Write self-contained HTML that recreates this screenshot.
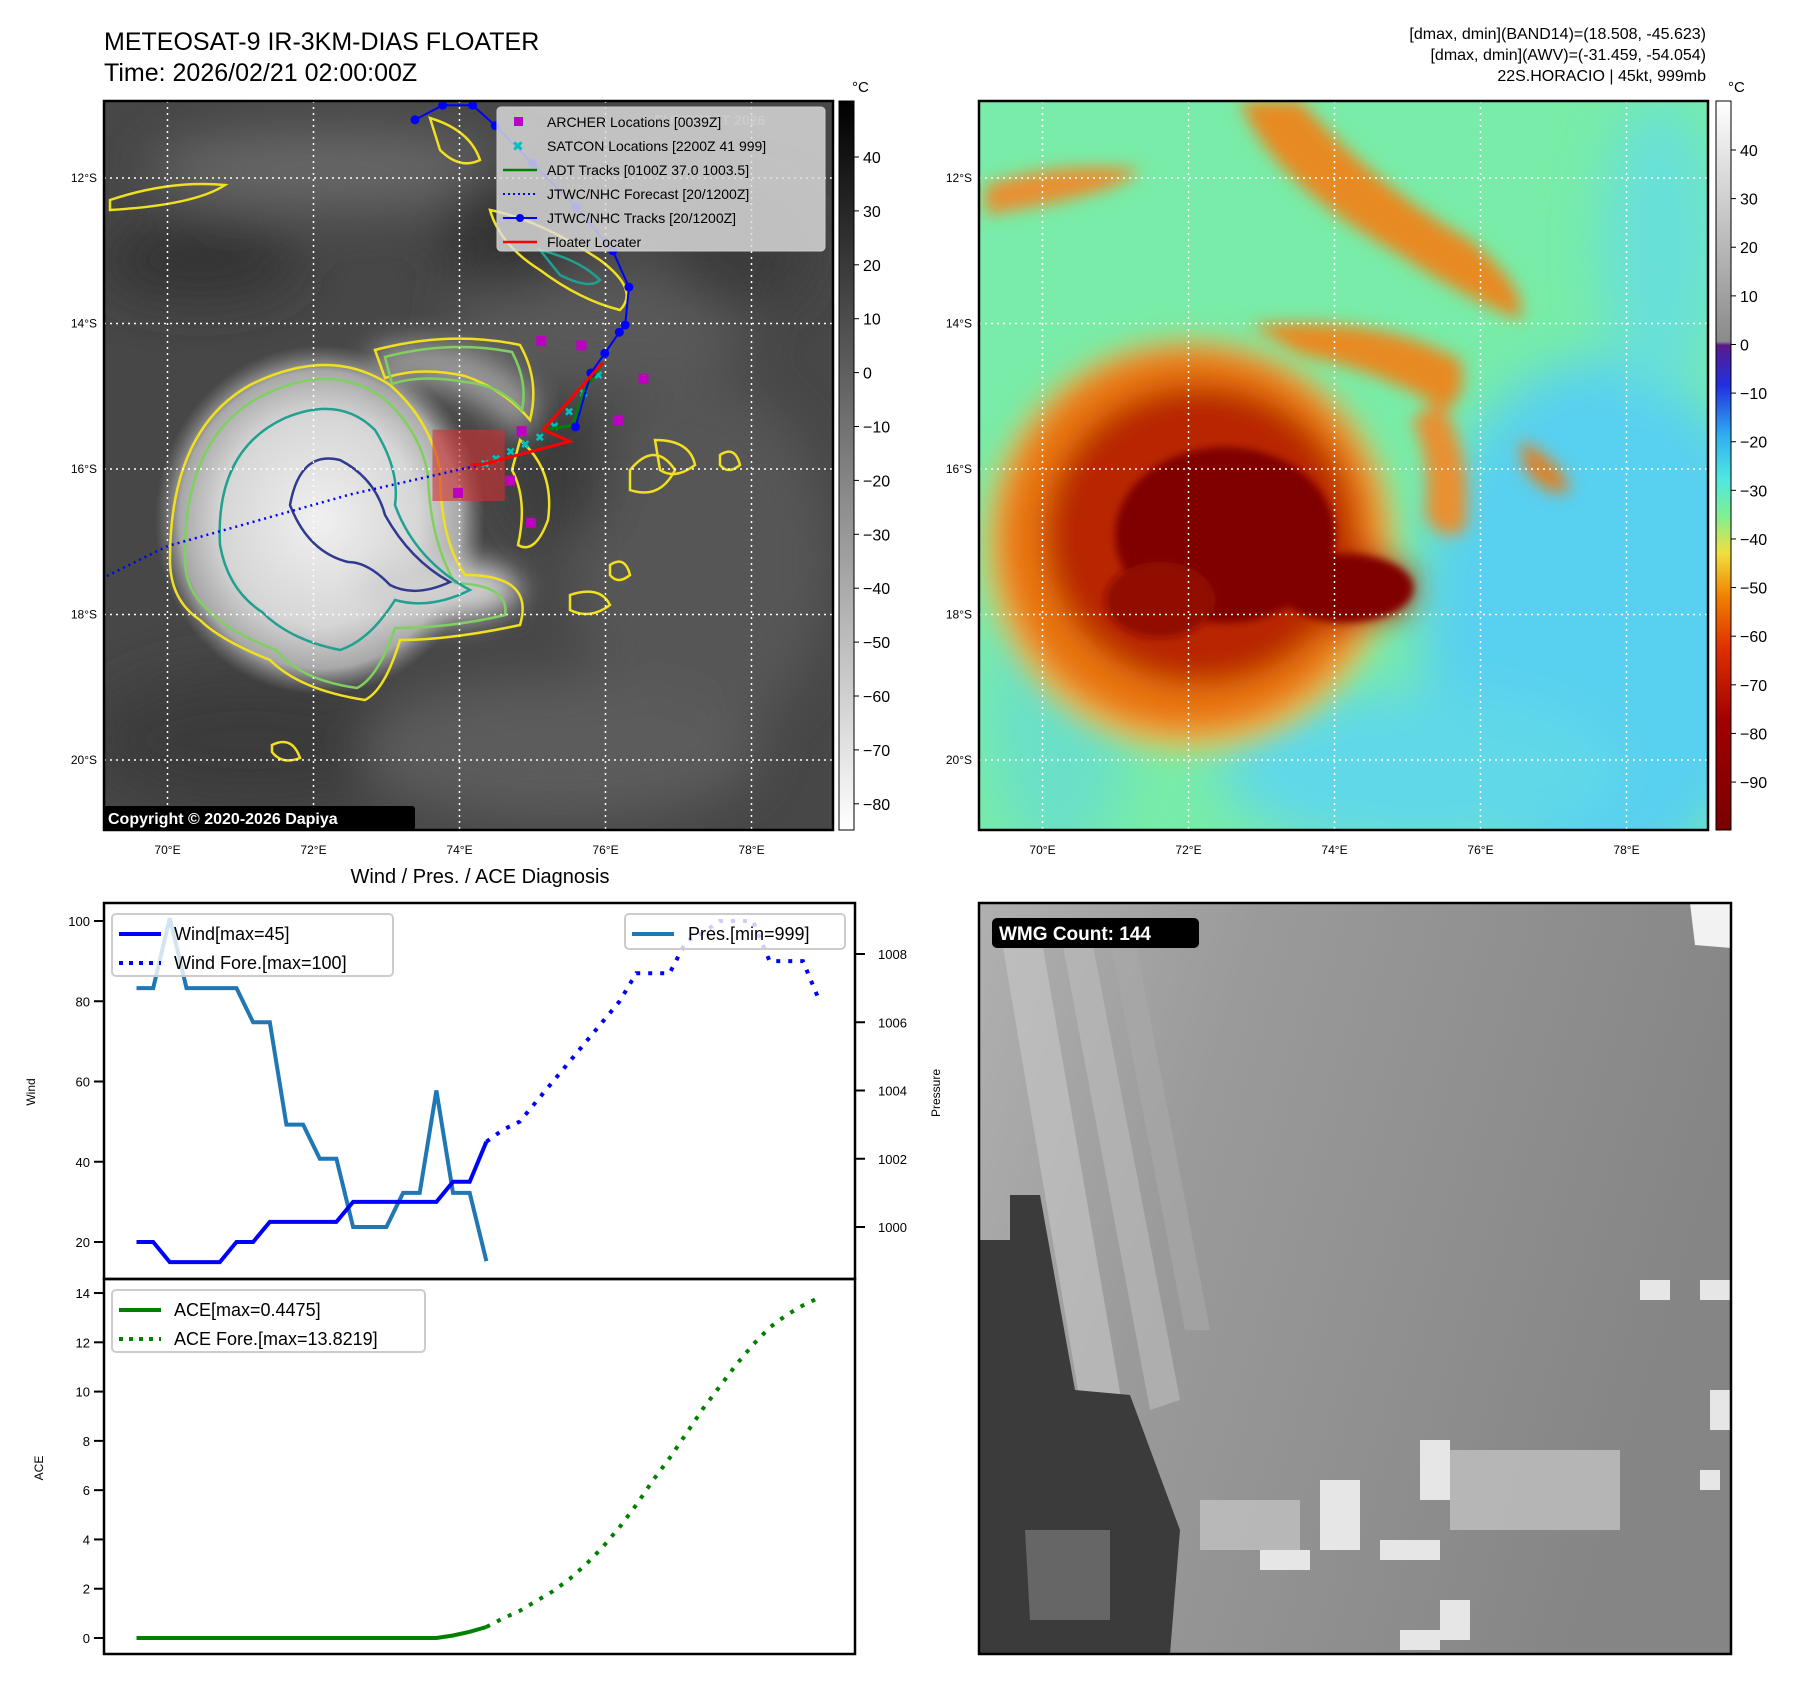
<!DOCTYPE html>
<html><head><meta charset="utf-8"><style>
body{margin:0;background:#fff;}
svg{display:block;font-family:"Liberation Sans","DejaVu Sans",sans-serif;}
</style></head><body>
<svg id="fig" width="1797" height="1690" viewBox="0 0 1797 1690" xmlns="http://www.w3.org/2000/svg">
<defs>
<filter id="b4"><feGaussianBlur stdDeviation="4"/></filter>
<filter id="b8"><feGaussianBlur stdDeviation="8"/></filter>
<filter id="b14"><feGaussianBlur stdDeviation="14"/></filter>
<filter id="b25"><feGaussianBlur stdDeviation="25"/></filter>
<clipPath id="c1"><rect x="104" y="101" width="729" height="729"/></clipPath>
<clipPath id="c2"><rect x="979" y="101" width="729" height="729"/></clipPath>
<clipPath id="c3"><rect x="979" y="903" width="752" height="751"/></clipPath>
<linearGradient id="cb1" x1="0" y1="0" x2="0" y2="1"><stop offset="0" stop-color="#000"/><stop offset="1" stop-color="#fff"/></linearGradient>
<linearGradient id="cb2" x1="0" y1="0" x2="0" y2="1">
<stop offset="0" stop-color="#ffffff"/><stop offset="0.33" stop-color="#8a8a8a"/>
<stop offset="0.335" stop-color="#5a1a8a"/><stop offset="0.39" stop-color="#2030e0"/>
<stop offset="0.46" stop-color="#30b0f0"/><stop offset="0.52" stop-color="#50e8e0"/>
<stop offset="0.57" stop-color="#80f090"/><stop offset="0.62" stop-color="#f0e040"/>
<stop offset="0.68" stop-color="#f08000"/><stop offset="0.75" stop-color="#e03000"/>
<stop offset="0.85" stop-color="#a00000"/><stop offset="1" stop-color="#7a0000"/>
</linearGradient>
<radialGradient id="storm1"><stop offset="0" stop-color="#f0f0f0"/><stop offset="0.6" stop-color="#d6d6d6"/><stop offset="0.85" stop-color="#a8a8a8"/><stop offset="1" stop-color="#888" stop-opacity="0"/></radialGradient>
<linearGradient id="wmgbg" x1="0" y1="0" x2="1" y2="0.3"><stop offset="0" stop-color="#b0b0b0"/><stop offset="0.35" stop-color="#9a9a9a"/><stop offset="1" stop-color="#858585"/></linearGradient>
</defs>

<text x="104" y="50" font-size="25">METEOSAT-9 IR-3KM-DIAS FLOATER</text>
<text x="104" y="81" font-size="25">Time: 2026/02/21 02:00:00Z</text>
<g font-size="16" text-anchor="end">
<text x="1706" y="39">[dmax, dmin](BAND14)=(18.508, -45.623)</text>
<text x="1706" y="60">[dmax, dmin](AWV)=(-31.459, -54.054)</text>
<text x="1706" y="81">22S.HORACIO | 45kt, 999mb</text>
</g>

<!-- LEFT MAP -->
<g clip-path="url(#c1)">
<rect x="104" y="101" width="729" height="729" fill="#474747"/>
<g filter="url(#b25)" opacity="0.9">
<ellipse cx="330" cy="170" rx="180" ry="40" fill="#6a6a6a"/>
<ellipse cx="600" cy="330" rx="150" ry="60" fill="#5c5c5c"/>
<ellipse cx="700" cy="560" rx="130" ry="180" fill="#595959"/>
<ellipse cx="250" cy="740" rx="160" ry="70" fill="#3a3a3a"/>
<ellipse cx="560" cy="750" rx="200" ry="70" fill="#5e5e5e"/>
<ellipse cx="200" cy="260" rx="100" ry="40" fill="#333"/>
<ellipse cx="510" cy="230" rx="70" ry="60" fill="#333"/>
<ellipse cx="560" cy="470" rx="50" ry="70" fill="#3a3a3a"/>
<ellipse cx="740" cy="250" rx="70" ry="60" fill="#3a3a3a"/>
</g>
<ellipse cx="320" cy="520" rx="165" ry="175" fill="url(#storm1)"/>
<g filter="url(#b14)">
<path d="M370 350 Q470 320 540 400 L525 440 Q450 370 380 385Z" fill="#9a9a9a"/>
<ellipse cx="440" cy="590" rx="80" ry="30" fill="#d0d0d0"/>
</g>
<g fill="none" stroke-width="2.5">
<path d="M170 560 Q170 430 250 385 Q330 345 390 385 Q430 420 440 470 Q440 540 465 575 Q535 575 520 625 Q450 640 400 640 Q385 690 365 700 Q300 690 270 660 Q220 640 200 620 Q170 600 170 560Z" stroke="#f0e020"/>
<path d="M185 560 Q183 440 258 398 Q330 360 383 398 Q420 430 428 475 Q430 540 455 583 Q510 585 505 615 Q450 628 395 628 Q378 678 357 688 Q300 680 276 650 Q225 630 208 610 Q185 590 185 560Z" stroke="#80d060"/>
<path d="M220 545 Q215 450 285 418 Q340 395 375 430 Q400 470 395 505 Q415 560 470 590 Q430 610 395 600 Q370 640 340 650 Q290 640 262 612 Q228 590 220 545Z" stroke="#20a090"/>
<path d="M290 505 Q300 450 340 460 Q375 478 385 515 Q410 560 450 582 Q415 598 390 585 Q368 562 348 562 Q308 552 290 505Z" stroke="#303a90"/>
<path d="M375 350 Q450 330 520 345 Q540 380 530 420 Q505 390 465 376 Q420 366 385 378Z" stroke="#f0e020"/>
<path d="M385 357 Q450 340 512 352 Q528 382 522 410 Q500 385 465 382 Q420 374 392 384Z" stroke="#80d060"/>
<path d="M520 440 Q555 470 548 520 Q535 555 518 545 Q528 500 512 470Z" stroke="#f0e020"/>
<path d="M430 118 Q470 130 480 160 Q460 170 440 150Z" stroke="#f0e020"/>
<path d="M490 210 Q540 220 600 260 Q640 290 620 310 Q580 300 540 270 Q500 245 490 210Z" stroke="#f0e020"/>
<path d="M540 250 Q580 260 600 280 Q590 290 560 275Z" stroke="#20a090"/>
<path d="M630 470 Q655 440 675 470 Q660 500 630 490Z" stroke="#f0e020"/>
<path d="M655 440 Q690 440 695 465 Q675 480 660 470Z" stroke="#f0e020"/>
<path d="M110 200 Q170 180 225 185 Q195 205 110 210Z" stroke="#f0e020"/>
<path d="M570 595 Q600 585 610 605 Q590 620 570 610Z" stroke="#f0e020"/>
<path d="M272 745 Q292 735 300 758 Q282 765 272 752Z" stroke="#f0e020"/>
<path d="M720 455 Q735 445 740 465 Q728 475 720 465Z" stroke="#f0e020"/>
<path d="M610 565 Q625 555 630 575 Q618 585 610 575Z" stroke="#f0e020"/>
</g>
<g stroke="#fff" stroke-width="1.5" stroke-dasharray="2,4" id="grid1"></g>
<rect id="floaterbox" fill="#d03030" fill-opacity="0.6"/>
<g id="ovl1"></g>
</g>
<rect x="104" y="101" width="729" height="729" fill="none" stroke="#000" stroke-width="2.5"/>
<g>
<rect x="497" y="107" width="328" height="144" rx="4" fill="#ddd" fill-opacity="0.82" stroke="#ccc"/>
<text x="640" y="125" font-size="14" fill="#ccc" font-weight="bold">© EUMETSAT 2026</text>
<g font-size="14">
<rect x="514" y="117" width="9" height="9" fill="#c000c0"/><text x="547" y="127">ARCHER Locations [0039Z]</text>
<text x="512" y="151" fill="#00c0c0" font-weight="bold" font-size="14">✖</text><text x="547" y="151">SATCON Locations [2200Z 41 999]</text>
<line x1="503" y1="170" x2="537" y2="170" stroke="#008000" stroke-width="2.5"/><text x="547" y="175">ADT Tracks [0100Z 37.0 1003.5]</text>
<line x1="503" y1="194" x2="537" y2="194" stroke="#0000ff" stroke-width="2" stroke-dasharray="2,3"/><text x="547" y="199">JTWC/NHC Forecast [20/1200Z]</text>
<line x1="503" y1="218" x2="537" y2="218" stroke="#0000ff" stroke-width="2"/><circle cx="520" cy="218" r="4" fill="#00f"/><text x="547" y="223">JTWC/NHC Tracks [20/1200Z]</text>
<line x1="503" y1="242" x2="537" y2="242" stroke="#ff0000" stroke-width="2.5"/><text x="547" y="247">Floater Locater</text>
</g></g>
<g><rect x="103" y="806" width="312" height="24" rx="3" fill="#000"/><text x="108" y="824" font-size="16" font-weight="bold" fill="#fff">Copyright © 2020-2026 Dapiya</text></g>
<rect x="839" y="101" width="15" height="729" fill="url(#cb1)" stroke="#000" stroke-width="1"/>
<text x="852" y="92" font-size="15">°C</text>
<g id="cb1ticks" font-size="16"></g>

<!-- RIGHT MAP -->
<g clip-path="url(#c2)">
<rect x="979" y="101" width="729" height="729" fill="#78eca8"/>
<g filter="url(#b25)">
<ellipse cx="1600" cy="620" rx="180" ry="260" fill="#58d0f0"/>
<ellipse cx="1420" cy="770" rx="200" ry="80" fill="#60d8e8"/>
<ellipse cx="1060" cy="720" rx="70" ry="140" fill="#6ae0c8"/>
<ellipse cx="1660" cy="250" rx="60" ry="150" fill="#68e0d8"/>
</g>
<g filter="url(#b8)">
<path d="M1240 101 L1300 101 Q1380 190 1470 240 Q1530 290 1520 320 Q1460 295 1400 255 Q1330 215 1290 175 Q1255 140 1240 101Z" fill="#e88a20"/>
<path d="M985 185 Q1060 160 1140 170 Q1120 195 985 215Z" fill="#e89030"/>
<path d="M1250 325 Q1380 315 1460 360 Q1470 395 1445 410 Q1380 370 1300 355Z" fill="#e88a20"/>
<path d="M1440 400 Q1475 460 1465 530 Q1440 545 1425 515 Q1432 460 1412 420Z" fill="#e89030"/>
<path d="M1520 440 Q1560 460 1570 490 Q1550 500 1525 470Z" fill="#e08020"/>
</g>
<g filter="url(#b14)">
<ellipse cx="1190" cy="545" rx="205" ry="205" fill="#f0c050"/>
<ellipse cx="1190" cy="540" rx="192" ry="192" fill="#e87410"/>
<ellipse cx="1200" cy="535" rx="155" ry="150" fill="#b82800"/>
<ellipse cx="1340" cy="588" rx="75" ry="42" fill="#b82800"/>
</g>
<g filter="url(#b4)">
<ellipse cx="1225" cy="535" rx="110" ry="88" fill="#800000"/>
<ellipse cx="1345" cy="588" rx="68" ry="34" fill="#800000"/>
<ellipse cx="1160" cy="600" rx="55" ry="38" fill="#901000"/>
</g>
<g stroke="#fff" stroke-width="1.5" stroke-dasharray="2,4" id="grid2"></g>
</g>
<rect x="979" y="101" width="729" height="729" fill="none" stroke="#000" stroke-width="2.5"/>
<rect x="1716" y="101" width="15" height="729" fill="url(#cb2)" stroke="#000" stroke-width="1"/>
<text x="1728" y="92" font-size="15">°C</text>
<g id="cb2ticks" font-size="16"></g>
<g id="maplabels" font-size="12"></g>

<text x="480" y="883" font-size="20" text-anchor="middle">Wind / Pres. / ACE Diagnosis</text>
<rect x="104" y="903" width="751" height="376" fill="#fff"/>
<g id="chart"></g>
<rect x="104" y="903" width="751" height="376" fill="none" stroke="#000" stroke-width="2.5"/>
<rect x="104" y="1279" width="751" height="375" fill="none" stroke="#000" stroke-width="2.5"/>
<text transform="translate(35,1092) rotate(-90)" font-size="12" text-anchor="middle">Wind</text>
<text transform="translate(940,1093) rotate(-90)" font-size="12" text-anchor="middle">Pressure</text>
<text transform="translate(43,1468) rotate(-90)" font-size="12" text-anchor="middle">ACE</text>
<g font-size="18">
<g><rect x="112" y="914" width="281" height="62" rx="4" fill="#fff" fill-opacity="0.8" stroke="#ccc" stroke-width="2"/>
<line x1="119" y1="934" x2="161" y2="934" stroke="#0000ff" stroke-width="4"/><text x="174" y="940">Wind[max=45]</text>
<line x1="119" y1="963" x2="161" y2="963" stroke="#0000ff" stroke-width="4" stroke-dasharray="4,6"/><text x="174" y="969">Wind Fore.[max=100]</text></g>
<g><rect x="625" y="914" width="220" height="35" rx="4" fill="#fff" fill-opacity="0.8" stroke="#ccc" stroke-width="2"/>
<line x1="632" y1="934" x2="674" y2="934" stroke="#1f77b4" stroke-width="4"/><text x="688" y="940">Pres.[min=999]</text></g>
<g><rect x="112" y="1290" width="313" height="62" rx="4" fill="#fff" fill-opacity="0.8" stroke="#ccc" stroke-width="2"/>
<line x1="119" y1="1310" x2="161" y2="1310" stroke="#008000" stroke-width="4"/><text x="174" y="1316">ACE[max=0.4475]</text>
<line x1="119" y1="1339" x2="161" y2="1339" stroke="#008000" stroke-width="4" stroke-dasharray="4,6"/><text x="174" y="1345">ACE Fore.[max=13.8219]</text></g>
</g>

<!-- WMG -->
<g clip-path="url(#c3)">
<rect x="979" y="903" width="752" height="751" fill="url(#wmgbg)"/>
<path d="M1690 903 L1731 903 L1731 948 L1695 945Z" fill="#f2f2f2"/>
<g opacity="0.6">
<path d="M1000 930 L1040 930 L1130 1450 L1090 1460Z" fill="#c8c8c8"/>
<path d="M1060 930 L1090 930 L1180 1400 L1150 1410Z" fill="#bdbdbd"/>
<path d="M1110 940 L1135 940 L1210 1330 L1185 1330Z" fill="#aaa"/>
</g>
<path d="M979 1240 L1010 1240 L1010 1195 L1040 1195 L1075 1390 L1130 1395 L1180 1530 L1170 1654 L979 1654Z" fill="#3b3b3b"/>
<path d="M1025 1530 L1110 1530 L1110 1620 L1030 1620Z" fill="#666"/>
<g fill="#c0c0c0" opacity="0.8">
<rect x="1450" y="1450" width="170" height="80"/><rect x="1200" y="1500" width="100" height="50"/>
</g>
<g fill="#e6e6e6">
<rect x="1320" y="1480" width="40" height="70"/><rect x="1420" y="1440" width="30" height="60"/>
<rect x="1380" y="1540" width="60" height="20"/><rect x="1440" y="1600" width="30" height="40"/>
<rect x="1260" y="1550" width="50" height="20"/><rect x="1640" y="1280" width="30" height="20"/>
<rect x="1700" y="1280" width="30" height="20"/><rect x="1710" y="1390" width="25" height="40"/>
<rect x="1700" y="1470" width="20" height="20"/><rect x="1400" y="1630" width="40" height="20"/>
</g>
</g>
<rect x="979" y="903" width="752" height="751" fill="none" stroke="#000" stroke-width="2.5"/>
<g><rect x="992" y="918" width="207" height="30" rx="5" fill="#000"/><text x="999" y="940" font-size="19" font-weight="bold" fill="#fff">WMG Count: 144</text></g>
</svg>
<script>
const obsIdx = [0,1,2,3,4,5,6,7,8,9,10,11,12,13,14,15,16,17,18,19,20,21];
const windObs = [20,20,15,15,15,15,20,20,25,25,25,25,25,30,30,30,30,30,30,35,35,45];
const foreIdx = [21,22,23,24,25,26,27,28,29,30,31,32,33,34,35,36,37,38,39,40,41];
const windFore = [45,48,50,55,60,65,70,75,80,87,87,87,95,97,100,100,100,90,90,90,80];
const presObs = [1007,1007,1009.05,1007,1007,1007,1007,1006,1006,1003,1003,1002,1002,1000,1000,1000,1001,1001,1004,1001,1001,999];
const aceObs = [0,0,0,0,0,0,0,0,0,0,0,0,0,0,0,0,0,0,0,0.1,0.25,0.4475];
const aceFore = [0.4475,0.8,1.1,1.5,1.9,2.4,3.0,3.7,4.5,5.4,6.4,7.3,8.3,9.3,10.2,11.1,11.9,12.6,13.1,13.5,13.8219];
const windTicks = [20,40,60,80,100];
const presTicks = [1000,1002,1004,1006,1008];
const aceTicks = [0,2,4,6,8,10,12,14];
const lonTicks = [70,72,74,76,78];
const latTicks = [12,14,16,18,20];
const cb1Ticks = [40,30,20,10,0,-10,-20,-30,-40,-50,-60,-70,-80];
const cb2Ticks = [40,30,20,10,0,-10,-20,-30,-40,-50,-60,-70,-80,-90];
const trackLon = [73.39,73.77,74.18,74.49,75.0,75.6,76.1,76.32,76.27,76.19,75.99,75.8,75.59];
const trackLat = [-11.2,-11.0,-11.0,-11.28,-11.8,-12.4,-13.0,-13.5,-14.02,-14.12,-14.41,-14.68,-15.42];
const foreLon = [74.3,72.5,70.0,69.13];
const foreLat = [-15.94,-16.35,-17.06,-17.49];
const floaterLon = [75.96,75.15,75.51,74.3,74.15];
const floaterLat = [-14.54,-15.46,-15.62,-15.94,-15.94];
const adtLon = [75.96,75.72,75.55,75.15];
const adtLat = [-14.54,-14.9,-15.4,-15.46];
const satLon = [75.9,75.7,75.5,75.3,75.1,74.9,74.7,74.5,74.35];
const satLat = [-14.7,-14.95,-15.2,-15.4,-15.55,-15.65,-15.75,-15.85,-15.92];
const archLon = [75.12,75.67,76.52,76.17,74.85,74.69,73.98,74.98];
const archLat = [-14.24,-14.30,-14.76,-15.33,-15.48,-16.16,-16.33,-16.74];
const boxLon = [73.63,74.62];
const boxLat = [-15.46,-16.44];

const NS='http://www.w3.org/2000/svg';
function mk(tag,attrs,parent){const e=document.createElementNS(NS,tag);for(const k in attrs)e.setAttribute(k,attrs[k]);parent.appendChild(e);return e;}
const xs = i => 136.5 + i*16.66;
const yW = v => 921 + (100-v)*4.0125;
const yP = p => 954 + (1008-p)*34.125;
const yA = a => 1638 - a*24.64;
const ch = document.getElementById('chart');
function poly(ix, vals, yf, color, dash, name){
  const pts = ix.map((i,k)=>xs(i).toFixed(1)+','+yf(vals[k]).toFixed(1)).join(' ');
  const el = mk('polyline',{points:pts,fill:'none',stroke:color,'stroke-width':4,'stroke-dasharray':dash||'none','stroke-linejoin':'miter'},ch);
  
  
}
poly(obsIdx,presObs,yP,'#1f77b4',null,'pressure-line');
poly(obsIdx,windObs,yW,'#0000ff',null,'wind-line');
poly(foreIdx,windFore,yW,'#0000ff','4,8','wind-forecast-line');
poly(obsIdx,aceObs,yA,'#008000',null,'ace-line');
poly(foreIdx,aceFore,yA,'#008000','4,8','ace-forecast-line');
function ticks(list, yf, side, fmt){
  list.forEach(v=>{
    const y=yf(v);
    if(side==='L'){mk('line',{x1:94,y1:y,x2:104,y2:y,stroke:'#000','stroke-width':2},ch);
      const t=mk('text',{x:90,y:y+5,'font-size':13,'text-anchor':'end'},ch);t.textContent=fmt(v);
      
      }
    else {mk('line',{x1:855,y1:y,x2:865,y2:y,stroke:'#000','stroke-width':2},ch);
      const t=mk('text',{x:878,y:y+5,'font-size':13},ch);t.textContent=fmt(v);
      
      }
  });
}
ticks(windTicks,yW,'L',v=>v);
ticks(presTicks,yP,'R',v=>v);
ticks(aceTicks,yA,'L',v=>v);

const mx = (lon,x0) => x0 + 63.5 + (lon-70)*73;
const my = lat => 178 + (-lat-12)*72.75;
function grid(id,x0){
  const g=document.getElementById(id);
  lonTicks.forEach(l=>mk('line',{x1:mx(l,x0),y1:101,x2:mx(l,x0),y2:830},g));
  latTicks.forEach(l=>mk('line',{x1:x0,y1:my(-l),x2:x0+729,y2:my(-l)},g));
}
grid('grid1',104);grid('grid2',979);
const ml=document.getElementById('maplabels');
[104,979].forEach(x0=>{
  lonTicks.forEach(l=>{const t=mk('text',{x:mx(l,x0),y:854,'text-anchor':'middle'},ml);t.textContent=l+'°E';
    
    });
  latTicks.forEach(l=>{const t=mk('text',{x:x0-7,y:my(-l)+4,'text-anchor':'end'},ml);t.textContent=l+'°S';
    
    });
});
function cbt(id,list,yf,x){
  const g=document.getElementById(id);
  list.forEach(v=>{const y=yf(v);mk('line',{x1:x,y1:y,x2:x+5,y2:y,stroke:'#000'},g);
    const t=mk('text',{x:x+9,y:y+6},g);t.textContent=(v<0?'\u2212'+(-v):v);
    
    });
}
cbt('cb1ticks',cb1Ticks,v=>157+(40-v)*5.39,854);
cbt('cb2ticks',cb2Ticks,v=>150+(40-v)*4.862,1731);

const ov=document.getElementById('ovl1');
const P=(lo,la)=>mx(lo,104).toFixed(1)+','+my(la).toFixed(1);
const bx=document.getElementById('floaterbox');
bx.setAttribute('x',mx(boxLon[0],104));bx.setAttribute('y',my(boxLat[0]));
bx.setAttribute('width',(boxLon[1]-boxLon[0])*73);bx.setAttribute('height',(boxLat[0]-boxLat[1])*72.75);
let e;
e=mk('polyline',{points:foreLon.map((l,k)=>P(l,foreLat[k])).join(' '),fill:'none',stroke:'#0000ff','stroke-width':2.5,'stroke-dasharray':'2,4'},ov);


satLon.forEach((l,k)=>{const t=mk('text',{x:mx(l,104)-5,y:my(satLat[k])+5,'font-size':12,fill:'#00c0c0','font-weight':'bold'},ov);t.textContent='✖';
  
  });
e=mk('polyline',{points:adtLon.map((l,k)=>P(l,adtLat[k])).join(' '),fill:'none',stroke:'#008000','stroke-width':3},ov);


e=mk('polyline',{points:trackLon.map((l,k)=>P(l,trackLat[k])).join(' '),fill:'none',stroke:'#0000ff','stroke-width':2},ov);


trackLon.forEach((l,k)=>{const c=mk('circle',{cx:mx(l,104),cy:my(trackLat[k]),r:4.5,fill:'#00f'},ov);
  
  });
e=mk('polyline',{points:floaterLon.map((l,k)=>P(l,floaterLat[k])).join(' '),fill:'none',stroke:'#ff0000','stroke-width':3},ov);


archLon.forEach((l,k)=>{const r=mk('rect',{x:mx(l,104)-5,y:my(archLat[k])-5,width:10,height:10,fill:'#c000c0'},ov);
  
  });
</script>
</body></html>
